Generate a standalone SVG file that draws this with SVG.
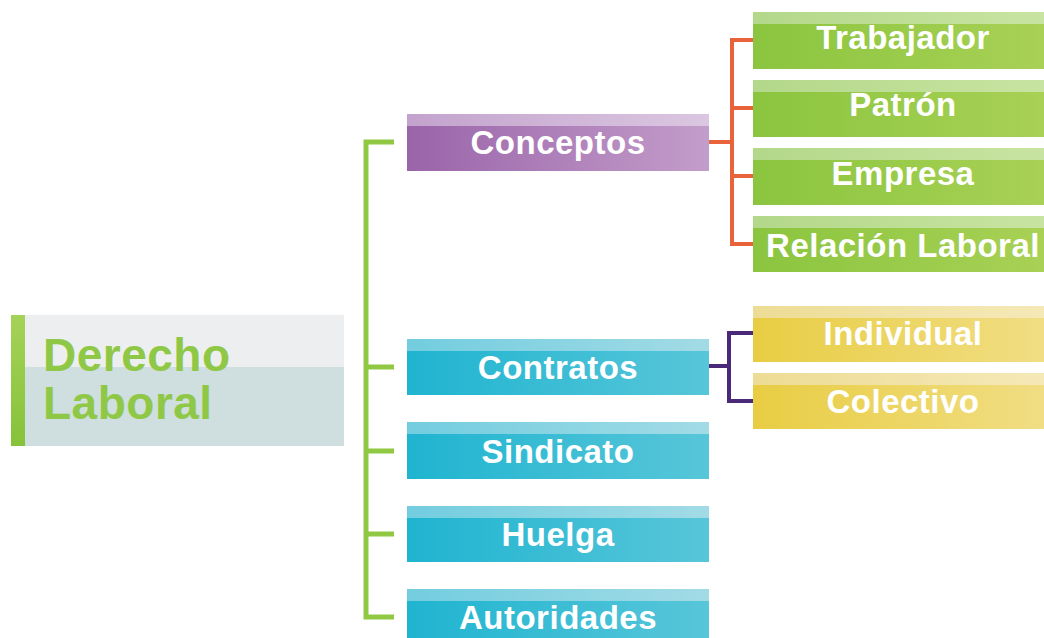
<svg xmlns="http://www.w3.org/2000/svg" width="1044" height="638" viewBox="0 0 1044 638">
<defs>
<linearGradient id="gPur" x1="0" x2="1" y1="0" y2="0"><stop offset="0" stop-color="#9a64a9"/><stop offset="1" stop-color="#c39dca"/></linearGradient>
<linearGradient id="gPurT" x1="0" x2="1" y1="0" y2="0"><stop offset="0" stop-color="#c3a3cd"/><stop offset="1" stop-color="#dbc7e1"/></linearGradient>
<linearGradient id="gCy" x1="0" x2="1" y1="0" y2="0"><stop offset="0" stop-color="#1fb4d0"/><stop offset="1" stop-color="#58c6d9"/></linearGradient>
<linearGradient id="gCyT" x1="0" x2="1" y1="0" y2="0"><stop offset="0" stop-color="#72cddf"/><stop offset="1" stop-color="#a2dbe6"/></linearGradient>
<linearGradient id="gGr" x1="0" x2="1" y1="0" y2="0"><stop offset="0" stop-color="#8bc53f"/><stop offset="1" stop-color="#a9d156"/></linearGradient>
<linearGradient id="gGrT" x1="0" x2="1" y1="0" y2="0"><stop offset="0" stop-color="#b3d88a"/><stop offset="1" stop-color="#c9e4a2"/></linearGradient>
<linearGradient id="gYe" x1="0" x2="1" y1="0" y2="0"><stop offset="0" stop-color="#e8cd43"/><stop offset="1" stop-color="#f1de86"/></linearGradient>
<linearGradient id="gYeT" x1="0" x2="1" y1="0" y2="0"><stop offset="0" stop-color="#eddc95"/><stop offset="1" stop-color="#f5e9b8"/></linearGradient>
<linearGradient id="gBar" x1="0" x2="0" y1="0" y2="1"><stop offset="0" stop-color="#a5d258"/><stop offset="1" stop-color="#86c23a"/></linearGradient>
</defs>
<style>
.lbl{font-family:"Liberation Sans",Arial,sans-serif;font-weight:bold;font-size:33px;letter-spacing:0.5px;fill:#ffffff;text-anchor:middle}
.root{font-family:"Liberation Sans",Arial,sans-serif;font-weight:bold;font-size:46px;letter-spacing:0.5px;fill:#8fc846}
.cg{fill:none;stroke:#90c743;stroke-width:5}
.co{fill:none;stroke:#e8623b;stroke-width:4}
.cp{fill:none;stroke:#4a2a78;stroke-width:4}
</style>
<rect width="1044" height="638" fill="#ffffff"/>
<g id="connectors">
<path class="cg" d="M394,142 H366 V617 H394 M366,367 H394 M366,451 H394 M366,534 H394"/>
<path class="co" d="M709,142 H732 M753,40 H732 V244 H753 M732,108 H753 M732,176 H753"/>
<path class="cp" d="M709,366 H729 M753,333 H729 V401 H753"/>
</g>
<g id="root">
<rect x="11" y="315" width="333" height="52" fill="#eceef0"/>
<rect x="11" y="367" width="333" height="79" fill="#cfdedf"/>
<rect x="11" y="315" width="14" height="131" fill="url(#gBar)"/>
<text class="root" x="43" y="371">Derecho</text>
<text class="root" x="43" y="419">Laboral</text>
</g>
<g id="conceptos">
<rect x="407" y="114" width="302" height="57" fill="url(#gPur)"/>
<rect x="407" y="114" width="302" height="12" fill="url(#gPurT)"/>
<text class="lbl" x="558" y="154">Conceptos</text>
</g>
<g id="contratos">
<rect x="407" y="339" width="302" height="56" fill="url(#gCy)"/>
<rect x="407" y="339" width="302" height="12" fill="url(#gCyT)"/>
<text class="lbl" x="558" y="379">Contratos</text>
</g>
<g id="sindicato">
<rect x="407" y="422" width="302" height="57" fill="url(#gCy)"/>
<rect x="407" y="422" width="302" height="12" fill="url(#gCyT)"/>
<text class="lbl" x="558" y="463">Sindicato</text>
</g>
<g id="huelga">
<rect x="407" y="506" width="302" height="56" fill="url(#gCy)"/>
<rect x="407" y="506" width="302" height="12" fill="url(#gCyT)"/>
<text class="lbl" x="558" y="546">Huelga</text>
</g>
<g id="autoridades">
<rect x="407" y="589" width="302" height="57" fill="url(#gCy)"/>
<rect x="407" y="589" width="302" height="12" fill="url(#gCyT)"/>
<text class="lbl" x="558" y="629">Autoridades</text>
</g>
<g id="trabajador">
<rect x="753" y="12" width="300" height="57" fill="url(#gGr)"/>
<rect x="753" y="12" width="300" height="12" fill="url(#gGrT)"/>
<text class="lbl" x="903" y="49">Trabajador</text>
</g>
<g id="patron">
<rect x="753" y="80" width="300" height="57" fill="url(#gGr)"/>
<rect x="753" y="80" width="300" height="12" fill="url(#gGrT)"/>
<text class="lbl" x="903" y="116">Patrón</text>
</g>
<g id="empresa">
<rect x="753" y="148" width="300" height="57" fill="url(#gGr)"/>
<rect x="753" y="148" width="300" height="12" fill="url(#gGrT)"/>
<text class="lbl" x="903" y="185">Empresa</text>
</g>
<g id="relacion">
<rect x="753" y="216" width="300" height="56" fill="url(#gGr)"/>
<rect x="753" y="216" width="300" height="12" fill="url(#gGrT)"/>
<text class="lbl" x="903" y="257">Relación Laboral</text>
</g>
<g id="individual">
<rect x="753" y="306" width="300" height="56" fill="url(#gYe)"/>
<rect x="753" y="306" width="300" height="12" fill="url(#gYeT)"/>
<text class="lbl" x="903" y="345">Individual</text>
</g>
<g id="colectivo">
<rect x="753" y="373" width="300" height="56" fill="url(#gYe)"/>
<rect x="753" y="373" width="300" height="12" fill="url(#gYeT)"/>
<text class="lbl" x="903" y="413">Colectivo</text>
</g>
</svg>
